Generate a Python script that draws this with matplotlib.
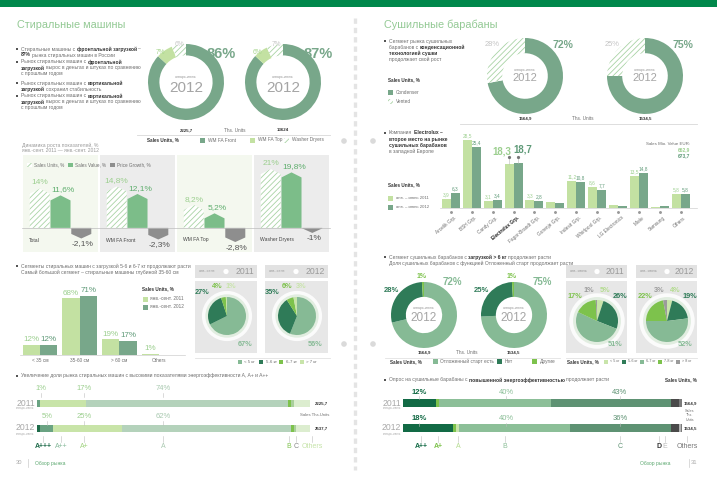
import matplotlib
matplotlib.use("Agg")
import matplotlib.pyplot as plt
from matplotlib.patches import Rectangle, Circle
import numpy as np

plt.rcParams["font.family"] = ["Liberation Sans", "DejaVu Sans"]
plt.rcParams["hatch.linewidth"] = 0.6

W, H = 717, 480

# ---------------- data ----------------
wm_types = ["WM FA Front", "WM FA Top", "Washer Dryers"]
wm_share_1 = [86, 7, 6]
wm_share_2 = [87, 6, 7]
wm_units = ["2225,7", "13624"]

growth_groups = ["Total", "WM FA Front", "WM FA Top", "Washer Dryers"]
growth_units = [14, 14.8, 8.2, 21]
growth_value = [11.6, 12.1, 5.2, 19.8]
growth_price = [-2.1, -2.3, -2.8, -1]

depth_cats = ["< 35 см", "35-60 см", "> 60 см", "Others"]
depth_2011 = [12, 68, 19, 1]
depth_2012 = [12, 71, 17, 0]

wm_load_cats = ["< 5 кг", "5-6 кг", "6-7 кг", "> 7 кг"]
wm_load_2011 = [67, 27, 4, 1]
wm_load_2012 = [56, 35, 6, 3]

wm_classes = ["A+++", "A++", "A+", "A", "B", "C", "Others"]
wm_class_2011 = [0, 1, 17, 74, 1, 1, 6]
wm_class_2012 = [1, 5, 25, 62, 1, 1, 5]
wm_class_totals = ["2225,7", "2537,7"]

td_types = ["Condenser", "Vented"]
td_share_1 = [72, 28]
td_share_2 = [75, 25]
td_units = ["1564,9", "1534,5"]

brands = ["Arcelik Grp.", "BSH Grp.", "Candy Grp.", "Electrolux Grp.",
          "Fagor-Brandt Grp.", "Gorenje Grp.", "Indesit Grp.", "Whirlpool Grp.",
          "LG Electronics", "Miele", "Samsung", "Others"]
brand_2011 = [3.9, 28.5, 3.1, 18.3, 3.3, 2.4, 11.2, 8.6, 1.3, 13.5, 0.6, 5.8]
brand_2012 = [6.3, 25.4, 3.4, 18.7, 2.8, 2.1, 10.8, 7.7, 1.0, 14.8, 0.8, 5.8]
brand_unlabeled = ["Gorenje Grp.", "LG Electronics", "Samsung"]
brand_value_eur = ["662,9", "673,7"]

delay_cats = ["Отложенный старт есть", "Нет", "Другие"]
delay_1 = [72, 28, 1]
delay_2 = [75, 25, 1]

td_load_cats = ["< 5 кг", "5-6 кг", "6-7 кг", "7-8 кг", "> 8 кг"]
td_load_2011 = [5, 26, 51, 17, 1]
td_load_2012 = [4, 19, 52, 22, 3]

td_classes = ["A++", "A+", "A", "B", "C", "D", "E", "Others"]
td_class_2011 = [12, 1, 0, 40, 43, 3, 0, 1]
td_class_2012 = [18, 1, 1, 40, 36, 3, 0.5, 0.5]
td_class_totals = ["1564,9", "1534,5"]

# ---------------- colours ----------------
GREEN_BAR = "#00884b"
TITLE = "#93c994"
TXT = "#6e6e6e"
DARK = "#333333"
SAGE = "#78a78a"
LIGHT = "#c3e1a2"
HATCH = "#a9d3a5"
VALUE = "#7cbd89"
PRICE = "#8e8e8e"
DEEP = "#2f7b58"
BRIGHT = "#7dc24c"
MID = "#86ba95"
PALE = "#c8e4aa"
GREY_PANEL = "#e7e7e7"
LBL_LIGHT = "#9ccf8f"
LBL_SAGE = "#5f9a78"

fig = plt.figure(figsize=(W / 100, H / 100), dpi=100)
under = fig.add_axes([0, 0, 1, 1], zorder=-1)
under.set_xlim(0, W)
under.set_ylim(H, 0)
under.set_axis_off()
bg = fig.add_axes([0, 0, 1, 1], zorder=5)
bg.set_xlim(0, W)
bg.set_ylim(H, 0)
bg.set_axis_off()
renderer = fig.canvas.get_renderer()


def px_axes(x, y, w, h):
    ax = fig.add_axes([x / W, 1 - (y + h) / H, w / W, h / H])
    ax.set_axis_off()
    return ax


def rect(x, y, w, h, color):
    under.add_patch(Rectangle((x, y), w, h, color=color, lw=0))


def txt(x, y, s, size=3.4, color=TXT, bold=False, ha="left", va="center", **kw):
    return bg.text(x, y, s, fontsize=size, color=color, ha=ha, va=va,
                   fontweight="bold" if bold else "normal", **kw)


def rich(x, y, parts, size=3.6):
    gap = size * 0.28 * 100 / 72
    for s, b in parts:
        s = s.strip()
        if not s:
            continue
        t = txt(x, y, s, size, DARK if b else TXT, bold=b)
        x += t.get_window_extent(renderer).width + gap


def bullet(x, y, lines, step=6.0, size=3.6):
    bg.add_patch(Rectangle((x - 0.8, y - 0.8), 1.6, 1.6, color="#555555", lw=0))
    for k, parts in enumerate(lines):
        rich(x + 4, y + k * step, parts, size)


def square(x, y, color, label, hatch=False, size=3.4, s=5):
    if hatch:
        bg.add_patch(Rectangle((x, y - s / 2), s, s, facecolor="white",
                               edgecolor=HATCH, hatch="//////", lw=0))
    else:
        bg.add_patch(Rectangle((x, y - s / 2), s, s, color=color, lw=0))
    txt(x + s + 2.5, y, label, size)


def donut(cx, cy, r, vals, colors, width, hatch_idx=None):
    ax = px_axes(cx - r, cy - r, 2 * r, 2 * r)
    wedges, _ = ax.pie(vals, colors=colors, startangle=90, counterclock=False,
                       radius=1, wedgeprops=dict(width=width, linewidth=0))
    if hatch_idx is not None:
        w = wedges[hatch_idx]
        w.set_facecolor("white")
        w.set_edgecolor(HATCH)
        w.set_hatch("//////")
    ax.set_xlim(-1, 1)
    ax.set_ylim(-1, 1)
    return ax


def small_pie(cx, cy, vals, colors, r=20):
    R = r * 1.35
    ax = px_axes(cx - R, cy - R, 2 * R, 2 * R)
    ax.add_patch(Circle((0, 0), 1.32, color="white", alpha=0.85, lw=0))
    ax.add_patch(Circle((0, 0), 1.14, color="#e1ede0", lw=0))
    ax.pie(vals, colors=colors, startangle=90, counterclock=False, radius=1,
           wedgeprops=dict(linewidth=0))
    ax.set_xlim(-1.35, 1.35)
    ax.set_ylim(-1.35, 1.35)


def pie_panel(x, w, year, head):
    rect(x, 265, w, 13, "#e2e2e2")
    rect(x, 281, w, 72, GREY_PANEL)
    txt(x + 4, 271.5, head, 2.8, "#9a9a9a")
    bg.add_patch(Circle((x + 31, 271.5), 2.6, color="white", lw=0))
    txt(x + w - 3, 271.5, year, 6.2, "#9a9a9a", ha="right")


def fmt(v):
    return f"{v:g}".replace(".", ",")


# ---------------- page decorations ----------------
rect(0, 0, W, 6.5, GREEN_BAR)
under.plot([355, 355], [18, 470], color="#e4e4e4", lw=2.4, dashes=(1.6, 1.2))
for dx, dy in [(344, 141), (373, 141), (344, 344), (373, 344)]:
    under.add_patch(Circle((dx, dy), 2.8, color="#dadada", lw=0))

txt(17, 25, "Стиральные машины", 7.8, TITLE)
txt(384, 25, "Сушильные барабаны", 7.8, TITLE)

# ---------------- left page: donuts ----------------
bullet(17, 49, [[("Стиральные машины с", 0), ("фронтальной загрузкой", 1), ("–", 0)],
                [("87%", 1), ("рынка стиральных машин в России", 0)]])
bullet(17, 62, [[("Рынок стиральных машин с", 0), ("фронтальной", 1)],
                [("загрузкой", 1), ("вырос в деньгах и штуках по сравнению", 0)],
                [("с прошлым годом", 0)]])
bullet(17, 83, [[("Рынок стиральных машин с", 0), ("вертикальной", 1)],
                [("загрузкой", 1), ("сохранил стабильность", 0)]])
bullet(17, 96, [[("Рынок стиральных машин с", 0), ("вертикальной", 1)],
                [("загрузкой", 1), ("вырос в деньгах и штуках по сравнению", 0)],
                [("с прошлым годом", 0)]])

wm_colors = [SAGE, LIGHT, "white"]
for cx, vals in [(186, wm_share_1), (283, wm_share_2)]:
    donut(cx, 82, 38, vals, wm_colors, 0.3, hatch_idx=2)
    txt(cx, 77, "январь-июнь", 2.6, "#9a9a9a", ha="center")
    txt(cx, 88, "2012", 11, "#a5a5a5", ha="center")
    txt(cx + 35, 54, f"{vals[0]}%", 10.5, SAGE, bold=True, ha="center")
    txt(cx - 26, 53, f"{vals[1]}%", 4.8, "#a8d68e", ha="center")
    txt(cx - 7, 44.5, f"{vals[2]}%", 4.8, "#c8c8c8", ha="center")
txt(186, 130, wm_units[0], 3.2, DARK, bold=True, ha="center")
txt(235, 130, "Ths. Units", 3.4, TXT, ha="center")
txt(283, 130, wm_units[1], 3.2, DARK, bold=True, ha="center")
bg.plot([137, 330], [134.5, 134.5], color="#d8d8d8", lw=0.6)
txt(147, 140, "Sales Units, %", 3.3, DARK, bold=True)
square(200, 140, SAGE, wm_types[0])
square(250, 140, LIGHT, wm_types[1])
square(284, 140, None, wm_types[2], hatch=True)

# ---------------- left page: growth panels ----------------
txt(22, 145, "Динамика роста показателей, %", 3.6, "#9a9a9a")
txt(22, 150.5, "янв.-сент. 2011 — янв.-сент. 2012", 3.6, "#9a9a9a")
gx0, gw = 22, 77
for i in range(len(growth_groups)):
    rect(gx0 + gw * i + 1, 155, gw - 2, 97, "#f4f8ef" if i % 2 == 0 else "#ececec")
    txt(gx0 + gw * i + 7, 240, growth_groups[i], 3.6, "#444444")
bg.plot([22, 330], [228, 228], color="#bdbdbd", lw=0.5)
square(27, 165, None, "Sales Units, %", hatch=True, size=3.3, s=4.5)
square(68, 165, VALUE, "Sales Value, %", size=3.3, s=4.5)
square(110, 165, PRICE, "Price Growth, %", size=3.3, s=4.5)

gax = px_axes(22, 155, 308, 97)
gax.set_xlim(-0.5, 3.5)
gax.set_ylim(-8.6, 26)
pax = gax.twinx()
pax.set_axis_off()
pax.set_ylim(-8.6 / 1.8, 26 / 1.8)


def house(ax, c, w, v, tip, **kw):
    s = np.sign(v)
    xs = [c - w / 2, c - w / 2, c, c + w / 2, c + w / 2]
    ys = [0, v - s * tip, v, v - s * tip, 0]
    ax.fill(xs, ys, lw=0, **kw)


bw = 0.26
for i in range(len(growth_groups)):
    house(gax, i - 0.27, bw, growth_units[i], 1.8, facecolor="white",
          edgecolor=HATCH, hatch="//////")
    house(gax, i, bw, growth_value[i], 1.8, facecolor=VALUE)
    house(pax, i + 0.27, bw, growth_price[i], 0.9, facecolor=PRICE)
    gax.text(i - 0.27, growth_units[i] + 0.8, fmt(growth_units[i]) + "%",
             fontsize=6, color=LBL_LIGHT, ha="center", va="bottom")
    gax.text(i + 0.03, growth_value[i] + 0.8, fmt(growth_value[i]) + "%",
             fontsize=6, color="#5fae6e", ha="center", va="bottom")
    pax.text(i + 0.29, growth_price[i] - 0.4, fmt(growth_price[i]) + "%",
             fontsize=6, color="#555555", ha="center", va="top")

# ---------------- left page: depth bars ----------------
bullet(17, 266, [[("Сегменты стиральных машин с загрузкой 5-6 и 6-7 кг продолжают расти", 0)],
                 [("Самый большой сегмент – стиральные машины глубиной 35-60 см", 0)]])
dax = px_axes(20, 280, 165, 75)
dx = np.arange(len(depth_cats))
dax.set_xlim(-0.504, 3.65)
dax.set_ylim(0, 90)
dax.bar(dx - 0.22, depth_2011, 0.44, color=LIGHT, lw=0)
dax.bar(dx + 0.22, depth_2012, 0.44, color=SAGE, lw=0)
for i in dx:
    dax.text(i - 0.22, depth_2011[i] + 2, f"{depth_2011[i]}%", fontsize=5.8,
             color=LBL_LIGHT, ha="center", va="bottom")
    if depth_2012[i]:
        dax.text(i + 0.22, depth_2012[i] + 2, f"{depth_2012[i]}%", fontsize=5.8,
                 color=LBL_SAGE, ha="center", va="bottom")
    dax.text(i, -6, depth_cats[i], fontsize=3.4, color=TXT, ha="center", va="center")
bg.plot([20, 185], [355, 355], color="#cfcfcf", lw=0.5)
txt(142, 289, "Sales Units, %", 3.3, DARK, bold=True)
square(143, 299, LIGHT, "янв.-сент. 2011")
square(143, 307, SAGE, "янв.-сент. 2012")

# ---------------- left page: load pies ----------------
wm_load_colors = [MID, DEEP, BRIGHT, PALE]
pie_panel(195, 62, "2011", "янв.-сент.")
pie_panel(265, 63, "2012", "янв.-сент.")
small_pie(227, 316, wm_load_2011, wm_load_colors, r=19)
small_pie(297, 316, wm_load_2012, wm_load_colors, r=19)
for (x0, vals) in [(195, wm_load_2011), (265, wm_load_2012)]:
    txt(x0 + 7, 293, f"{vals[1]}%", 5.3, DEEP, bold=True, ha="center")
    txt(x0 + 22, 286, f"{vals[2]}%", 5.3, BRIGHT, bold=True, ha="center")
    txt(x0 + 36, 286, f"{vals[3]}%", 5.3, PALE, bold=True, ha="center")
    txt(x0 + 50, 344, f"{vals[0]}%", 5.3, MID, bold=True, ha="center")
bg.plot([195, 330], [357.5, 357.5], color="#e2e2e2", lw=0.6)
for k, (lx, c) in enumerate(zip([238, 259, 279, 300], wm_load_colors)):
    square(lx, 362, c, wm_load_cats[k], size=3.2, s=4)

# ---------------- left page: energy classes ----------------
bullet(17, 376, [[("Увеличение доли рынка стиральных машин с высокими показателями энергоэффективности A, A+ и A++", 0)]])
wm_class_colors = ["#1f6b4a", "#6aa382", "#c8e4a8", "#b4d2bb", BRIGHT, "#a9cf9b", "#dcedcf"]
eax = px_axes(37, 390.5, 273, 50)
eax.set_xlim(0, 100)
eax.set_ylim(1.5, -0.5)
for row, vals in enumerate([wm_class_2011, wm_class_2012]):
    lefts = np.concatenate([[0], np.cumsum(vals)[:-1]])
    eax.barh(row, vals, left=lefts, height=0.28, color=wm_class_colors, lw=0)
for y, yr in [(403, "2011"), (428, "2012")]:
    txt(35, y, yr, 6.2, "#a8a8a8", ha="right")
    txt(24, y + 5.5, "январь-июнь", 2.2, "#b0b0b0", ha="center")
wm_letter_x = [43, 61, 84, 163, 289, 296, 312]
wm_letter_c = ["#1f6b4a", "#86b99a", "#9fd27f", "#a9c9b0", BRIGHT, "#888888", "#c5e3a8"]
for k, cl in enumerate(wm_classes):
    txt(wm_letter_x[k], 447, cl, 5, wm_letter_c[k], bold=(k == 0), ha="center")
    bg.plot([wm_letter_x[k]] * 2, [442, 436], color="#bdbdbd", lw=0.4)
for vals, y, pos in [(wm_class_2011, 388.5, [41, 84, 163]), (wm_class_2012, 416.5, [47, 84, 163])]:
    for k, xx in zip([1, 2, 3], pos):
        txt(xx, y, f"{vals[k]}%", 5.5, LBL_LIGHT if k < 3 else "#a9c9b0", ha="center")
        bg.plot([xx, xx], [y + 4, y + 8], color="#bdbdbd", lw=0.4)
txt(315, 403, wm_class_totals[0], 3.2, DARK, bold=True)
txt(315, 428, wm_class_totals[1], 3.2, DARK, bold=True)
txt(300, 415.5, "Sales Ths.Units", 3.1, TXT)

txt(16, 463, "30", 4.2, "#aaaaaa")
bg.plot([28, 28], [459, 467], color="#cccccc", lw=0.5)
txt(35, 463, "Обзор рынка", 3.6, "#5aa76e")

# ---------------- right page: condenser donuts ----------------
bullet(385, 41, [[("Сегмент рынка сушильных", 0)],
                 [("барабанов с", 0), ("конденсационной", 1)],
                 [("технологией сушки", 1)],
                 [("продолжает свой рост", 0)]])
txt(388, 80, "Sales Units, %", 3.3, DARK, bold=True)
square(388, 92, SAGE, td_types[0])
square(388, 101.5, None, td_types[1], hatch=True)
for cx, vals in [(525, td_share_1), (645, td_share_2)]:
    donut(cx, 76, 38, vals, [SAGE, "white"], 0.4, hatch_idx=1)
    txt(cx, 70, "январь-июнь", 2.6, "#9a9a9a", ha="center")
    txt(cx, 78, "2012", 8, "#a5a5a5", ha="center")
    txt(cx + 38, 45, f"{vals[0]}%", 7.5, SAGE, bold=True, ha="center")
    txt(cx - 33, 45, f"{vals[1]}%", 5.4, "#c4c4c4", ha="center")
txt(525, 118, td_units[0], 3.2, DARK, bold=True, ha="center")
txt(583, 118, "Ths. Units", 3.4, TXT, ha="center")
txt(645, 118, td_units[1], 3.2, DARK, bold=True, ha="center")
bg.plot([460, 697], [123.5, 123.5], color="#d8d8d8", lw=0.6)

# ---------------- right page: brands ----------------
bullet(385, 133, [[("Компания", 0), ("Electrolux –", 1)],
                  [("второе место на рынке", 1)],
                  [("сушильных барабанов", 1)],
                  [("в западной Европе", 0)]])
txt(388, 185, "Sales Units, %", 3.3, DARK, bold=True)
square(388, 198, LIGHT, "янв. – июнь 2011", size=3.1)
square(388, 207, SAGE, "янв. – июнь 2012", size=3.1)
txt(690, 144, "Sales Mio. Value EUR:", 3.2, TXT, ha="right")
txt(690, 150, brand_value_eur[0], 3.5, LBL_LIGHT, bold=True, ha="right")
txt(690, 156, brand_value_eur[1], 3.5, LBL_SAGE, bold=True, ha="right")

bax = px_axes(440.5, 130, 250.5, 78)
bx = np.arange(len(brands))
bax.set_xlim(-0.5, 11.5)
bax.set_ylim(0, 78 / 2.39)
bax.bar(bx - 0.215, brand_2011, 0.43, color=LIGHT, lw=0)
bax.bar(bx + 0.215, brand_2012, 0.43, color=SAGE, lw=0)
for i, name in enumerate(brands):
    if name == "Electrolux Grp.":
        bax.text(i - 0.55, 23.8, fmt(brand_2011[i]), fontsize=7, color=LBL_LIGHT,
                 ha="center", va="center", fontweight="bold")
        bax.text(i + 0.45, 24.6, fmt(brand_2012[i]), fontsize=7, color=LBL_SAGE,
                 ha="center", va="center", fontweight="bold")
        bax.plot([i - 0.215] * 2, [brand_2011[i], 21.2], color="#bbbbbb", lw=0.4)
        bax.plot([i + 0.215] * 2, [brand_2012[i], 21.2], color="#bbbbbb", lw=0.4)
        bax.plot([i - 0.215, i + 0.215], [21.2, 21.2], "o", ms=1.3, color="#777777")
    elif name not in brand_unlabeled:
        bax.text(i - 0.215, brand_2011[i] + 0.7, fmt(brand_2011[i]), fontsize=3.4,
                 color=LBL_LIGHT, ha="center", va="bottom")
        bax.text(i + 0.215, brand_2012[i] + 0.7, fmt(brand_2012[i]), fontsize=3.4,
                 color=LBL_SAGE, ha="center", va="bottom")
    bax.plot([i], [-1.6], "o", ms=1.1, color="#999999", clip_on=False)
    bax.text(i + 0.15, -3.0, name, fontsize=3.4, rotation=40, ha="right", va="top",
             rotation_mode="anchor",
             color="#222222" if name == "Electrolux Grp." else TXT,
             fontweight="bold" if name == "Electrolux Grp." else "normal")
bg.plot([440, 697], [208, 208], color="#d0d0d0", lw=0.5)

# ---------------- right page: delayed start donuts ----------------
bullet(385, 257, [[("Сегмент сушильных барабанов с", 0), ("загрузкой > 6 кг", 1), ("продолжает расти", 0)],
                  [("Доля сушильных барабанов с функцией Отложенный старт продолжает расти", 0)]])
delay_colors = [MID, DEEP, BRIGHT]
for cx, vals in [(424, delay_1), (514, delay_2)]:
    donut(cx, 315, 33, vals, delay_colors, 0.45)
    txt(cx, 308, "январь-июнь", 2.6, "#9a9a9a", ha="center")
    txt(cx, 318, "2012", 8.5, "#a5a5a5", ha="center")
    txt(cx - 33, 290, f"{vals[1]}%", 5.5, DEEP, bold=True, ha="center")
    txt(cx - 2, 277, f"{vals[2]}%", 5, BRIGHT, bold=True, ha="center")
    txt(cx + 28, 282, f"{vals[0]}%", 7, MID, bold=True, ha="center")
txt(424, 352, td_units[0], 3.2, DARK, bold=True, ha="center")
txt(467, 352, "Ths. Units", 3.4, TXT, ha="center")
txt(513, 352, td_units[1], 3.2, DARK, bold=True, ha="center")
bg.plot([385, 560], [357.5, 357.5], color="#e2e2e2", lw=0.6)
txt(390, 361.5, "Sales Units, %", 3.3, DARK, bold=True)
square(433, 361.5, MID, delay_cats[0])
square(497, 361.5, DEEP, delay_cats[1])
square(532, 361.5, BRIGHT, delay_cats[2])

# ---------------- right page: load pies ----------------
td_load_colors = [PALE, DEEP, MID, BRIGHT, "#9b9b9b"]
pie_panel(566, 61, "2011", "янв.-июнь")
pie_panel(636, 61, "2012", "янв.-июнь")
small_pie(597, 321, td_load_2011, td_load_colors, r=21)
small_pie(667, 321, td_load_2012, td_load_colors, r=21)
for (x0, vals) in [(566, td_load_2011), (636, td_load_2012)]:
    txt(x0 + 23, 290, f"{vals[4]}%", 5.3, "#9b9b9b", bold=True, ha="center")
    txt(x0 + 39, 290, f"{vals[0]}%", 5.3, "#b4dc90", bold=True, ha="center")
    txt(x0 + 9, 297, f"{vals[3]}%", 5.3, BRIGHT, bold=True, ha="center")
    txt(x0 + 54, 297, f"{vals[1]}%", 5.3, DEEP, bold=True, ha="center")
    txt(x0 + 49, 345, f"{vals[2]}%", 5.3, MID, bold=True, ha="center")
bg.plot([566, 697], [357.5, 357.5], color="#e2e2e2", lw=0.6)
txt(567, 361.5, "Sales Units, %", 3.3, DARK, bold=True)
for k, (lx, c) in enumerate(zip([604, 622, 640, 658, 676], td_load_colors)):
    square(lx, 361.5, c, td_load_cats[k], size=2.7, s=4)

# ---------------- right page: energy classes ----------------
bullet(385, 380, [[("Опрос на сушильные барабаны с", 0), ("повышенной энергоэффективностью", 1),
                   ("продолжает расти", 0)]])
txt(697, 380, "Sales Units, %", 3.3, DARK, bold=True, ha="right")
td_class_colors = ["#126a45", BRIGHT, PALE, "#8cbf98", "#5e9273", "#4a4a4a", "#b5b5b5", "#7a7a7a"]
rax = px_axes(403, 390.5, 279, 50)
rax.set_xlim(0, 100)
rax.set_ylim(1.5, -0.5)
for row, vals in enumerate([td_class_2011, td_class_2012]):
    lefts = np.concatenate([[0], np.cumsum(vals)[:-1]])
    rax.barh(row, vals, left=lefts, height=0.32, color=td_class_colors, lw=0)
for y, yr in [(403, "2011"), (428, "2012")]:
    txt(401, y, yr, 6.2, "#a8a8a8", ha="right")
    txt(391, y + 5.5, "январь-июнь", 2.2, "#b0b0b0", ha="center")
td_letter_x = [421, 438, 458, 505, 620, 659, 665, 687]
td_letter_c = ["#126a45", BRIGHT, "#b4dc90", "#8cbf98", "#5e9273", "#333333", "#bbbbbb", "#777777"]
for k, cl in enumerate(td_classes):
    txt(td_letter_x[k], 447, cl, 5, td_letter_c[k], bold=(k in (0, 1, 5)), ha="center")
    bg.plot([td_letter_x[k]] * 2, [442, 436], color="#bdbdbd", lw=0.4)
for vals, y in [(td_class_2011, 392), (td_class_2012, 419)]:
    for k, xx in [(0, 419), (3, 506), (4, 620)]:
        c = "#126a45" if k == 0 else ("#8cbf98" if k == 3 else "#5e9273")
        txt(xx, y, f"{fmt(vals[k])}%", 5.5, c, bold=(k == 0), ha="center")
        bg.plot([xx, xx], [y + 4, y + 7], color="#bdbdbd", lw=0.4)
txt(684, 403, td_class_totals[0], 3.2, DARK, bold=True)
txt(684, 428, td_class_totals[1], 3.2, DARK, bold=True)
txt(690, 411, "Sales", 2.7, TXT, ha="center")
txt(690, 415.5, "Ths.", 2.7, TXT, ha="center")
txt(690, 420, "Units", 2.7, TXT, ha="center")

txt(655, 463, "Обзор рынка", 3.6, "#5aa76e", ha="center")
bg.plot([689, 689], [459, 467], color="#cccccc", lw=0.5)
txt(697, 463, "31", 4.2, "#aaaaaa", ha="right")

fig.savefig("out.png", dpi=100)
